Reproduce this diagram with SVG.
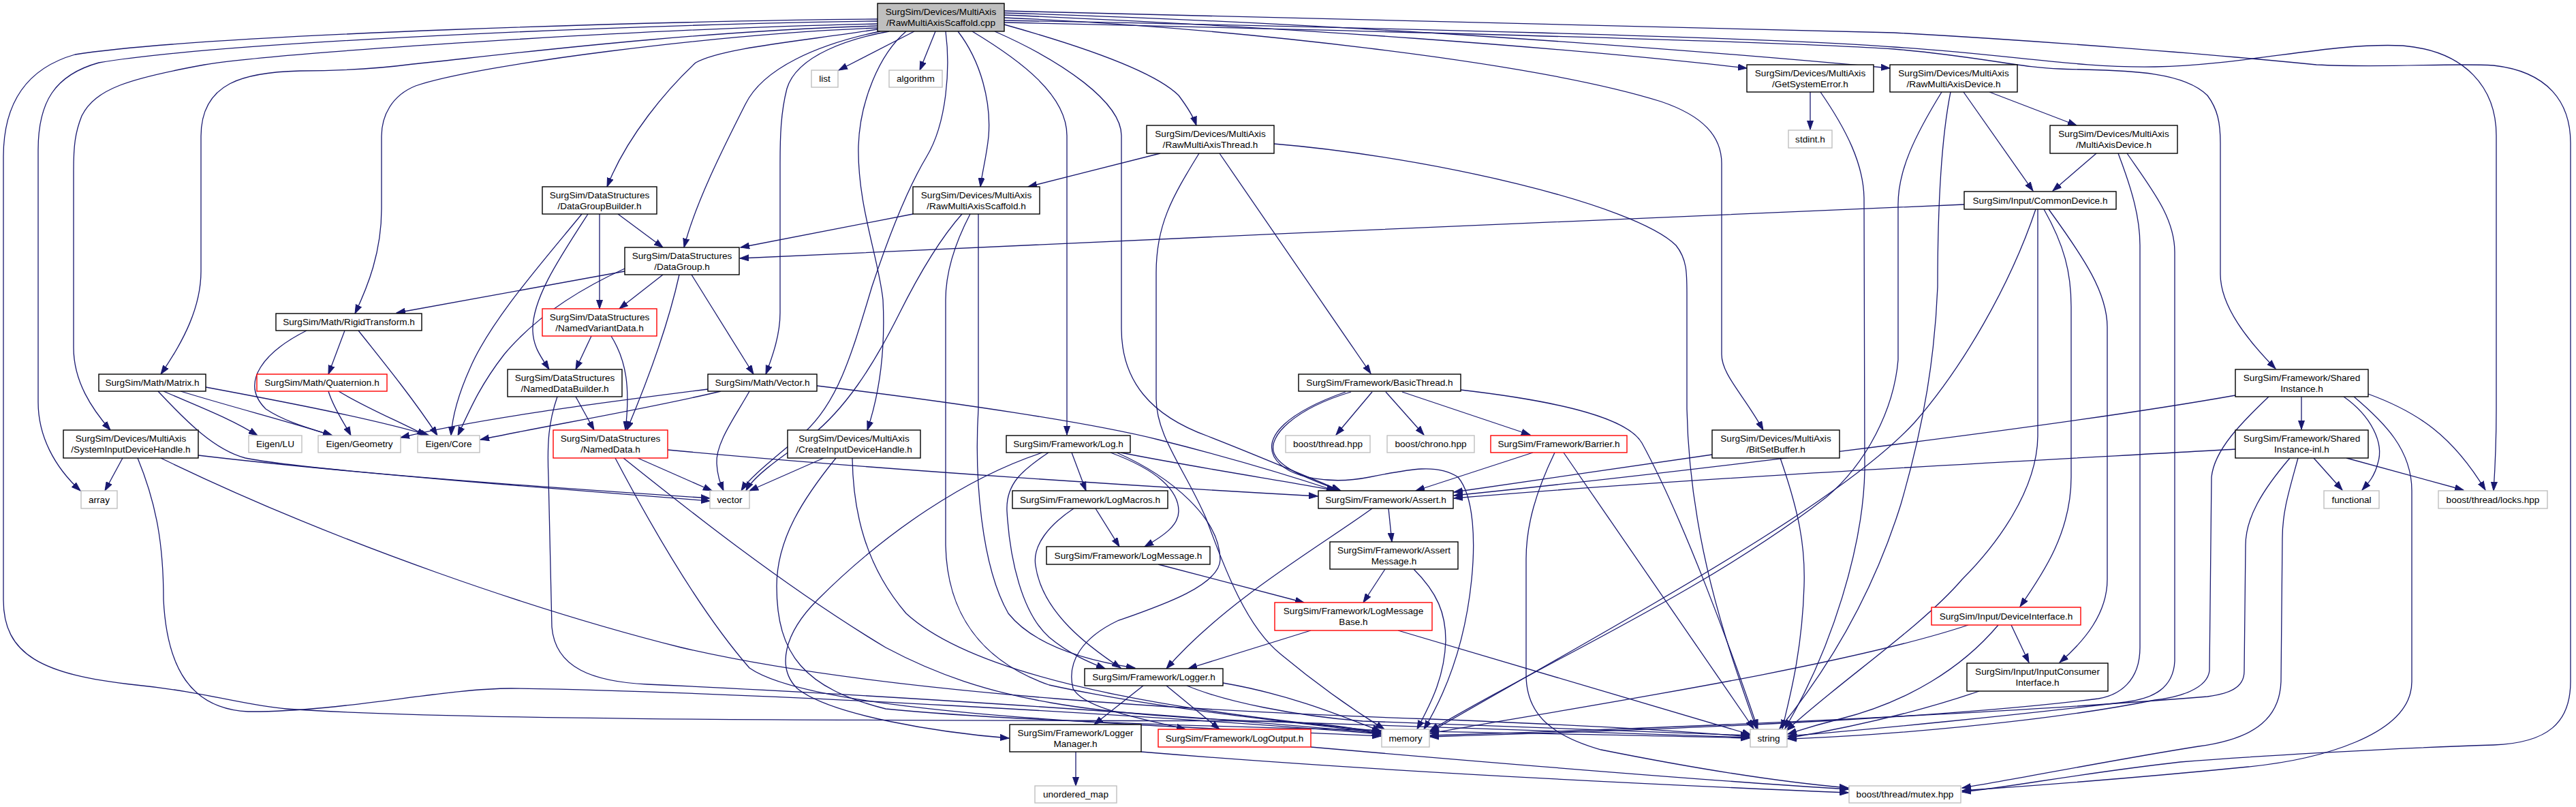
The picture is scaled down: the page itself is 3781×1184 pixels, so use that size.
<svg xmlns="http://www.w3.org/2000/svg" width="3781" height="1184" viewBox="0 0 3781 1184">
<defs>
<marker id="ah" markerWidth="14" markerHeight="10" refX="13" refY="5" orient="auto" markerUnits="userSpaceOnUse"><path d="M0,0.5 L13,5 L0,9.5 z" fill="#191970" stroke="#191970" stroke-width="1"/></marker>
<style>
.n rect{fill:#ffffff;stroke:#000000;stroke-width:1.4}
.r rect{fill:#ffffff;stroke:#ff0000;stroke-width:1.4}
.g rect{fill:#ffffff;stroke:#bfbfbf;stroke-width:1.4}
.rt rect{fill:#bfbfbf;stroke:#000000;stroke-width:1.4}
text{font-family:"Liberation Sans",Arial,Helvetica,sans-serif;font-size:13.6px;fill:#000000;text-anchor:middle}
#edges path{fill:none;stroke:#191970;stroke-width:1.3;marker-end:url(#ah)}
</style>
</defs>
<rect width="3781" height="1184" fill="#ffffff"/>
<g id="edges">
<path d="M1288,28 C1000,30 300,50 110,80 C40,100 5,150 5,230 L5,880 C5,960 60,990 200,1005 C300,1015 360,1035 420,1040 C700,1060 1500,1056 1850,1058 C1950,1060 2000,1070 2027,1078"/>
<path d="M1288,31 C1000,34 330,60 145,92 C80,110 56,150 56,220 L56,590 C56,640 80,685 118,720"/>
<path d="M1288,35 C1000,40 420,75 300,95 C190,115 140,130 120,170 C110,195 108,215 108,250 L108,510 C108,560 135,600 162,631"/>
<path d="M1288,38 C1000,46 700,85 606,94 C560,100 500,104 440,104 C360,106 295,120 295,200 L295,398 C295,450 270,500 236,549"/>
<path d="M1288,41 C1050,50 700,95 610,126 C575,140 560,170 560,200 L560,306 C560,370 540,420 521,460"/>
<path d="M1288,43 C1180,60 1060,70 1021,92 C980,130 920,200 891,274"/>
<path d="M1292,46 C1200,65 1120,100 1094,153 C1060,220 1020,300 1004,363"/>
<path d="M1305,46 C1250,56 1170,80 1155,130 C1146,165 1145,200 1145,240 L1145,459 C1145,490 1135,520 1124,549"/>
<path d="M1342,46 L1231,103"/>
<path d="M1373,46 L1350,103"/>
<path d="M1330,46 C1290,80 1262,150 1260,214 C1258,300 1290,380 1296,440 C1300,520 1290,580 1273,631"/>
<path d="M1388,46 C1395,100 1390,180 1360,230 C1330,280 1300,360 1280,420 C1250,520 1230,590 1180,635 C1140,670 1100,700 1088,720"/>
<path d="M1406,46 C1440,90 1455,150 1451,200 C1448,230 1442,250 1439,274"/>
<path d="M1427,46 C1500,90 1566,140 1566,199 L1566,638"/>
<path d="M1460,46 C1560,90 1646,150 1646,199 L1646,482 C1646,560 1690,610 1773,640 C1850,670 1920,700 1968,720"/>
<path d="M1474,36 C1560,60 1690,100 1730,140 C1745,160 1752,172 1756,184"/>
<path d="M1474,26 C1800,40 2250,90 2438,149 C2500,170 2527,200 2527,240 L2527,520 C2527,550 2560,580 2588,631"/>
<path d="M1474,22 C1900,40 2300,70 2564,100"/>
<path d="M1474,19 C1950,33 2450,70 2774,100"/>
<path d="M1474,16 C2000,25 2500,40 2780,48 C3000,60 3250,80 3400,95 C3500,100 3600,92 3660,96 C3740,105 3773,150 3773,210 L3773,1000 C3773,1060 3740,1090 3660,1093 C3500,1098 3300,1110 3200,1118 C3050,1135 2950,1155 2880,1162"/>
<path d="M1474,30 C2000,40 2600,55 2780,69 C2950,80 3050,100 3163,98 C3300,95 3420,62 3527,67 C3620,75 3664,130 3664,199 L3664,600 C3664,650 3662,690 3660,720"/>
<path d="M1474,33 C2000,45 2600,60 2780,72 C2900,82 2970,100 3023,101 C3100,104 3200,100 3240,140 C3255,160 3259,180 3259,210 L3259,402 C3259,450 3300,500 3340,541"/>
<path d="M2920,135 L3048,184"/>
<path d="M2882,135 L2984,280"/>
<path d="M2850,135 C2810,200 2786,250 2786,300 L2786,528 C2780,600 2740,680 2680,730 C2500,870 2250,980 2099,1072"/>
<path d="M2863,135 C2850,200 2844,300 2844,421 C2840,520 2825,620 2790,740 C2740,900 2660,1010 2612,1069"/>
<path d="M3077,225 L3013,280"/>
<path d="M3109,225 C3130,280 3141,320 3141,360 L3141,950 C3141,1000 3110,1020 3080,1025 C2800,1060 2300,1075 2099,1081"/>
<path d="M3122,225 C3160,280 3192,320 3192,370 L3192,970 C3190,1010 3160,1025 3120,1030 C2950,1050 2750,1070 2624,1080"/>
<path d="M2883,300 C2500,315 1600,355 1086,379"/>
<path d="M2988,307 C2950,420 2880,540 2810,620 C2700,740 2400,900 2099,1074"/>
<path d="M2991,307 L2991,640 C2990,720 2930,800 2880,850 C2820,920 2700,1000 2622,1072"/>
<path d="M3000,307 C3030,360 3040,400 3040,450 L3040,700 C3040,780 3000,840 2965,890"/>
<path d="M3007,307 C3060,380 3093,430 3093,480 L3093,850 C3093,900 3060,940 3023,972"/>
<path d="M2952,917 L2978,972"/>
<path d="M2889,917 C2700,980 2300,1040 2099,1076"/>
<path d="M2933,917 C2880,980 2800,1030 2700,1055 C2660,1065 2640,1072 2624,1077"/>
<path d="M2905,1014 C2800,1050 2700,1070 2624,1083"/>
<path d="M3281,580 C3000,630 2400,700 2134,727"/>
<path d="M3378,582 L3378,630"/>
<path d="M3440,582 C3480,610 3500,650 3490,680 C3485,700 3475,710 3467,719"/>
<path d="M3476,578 C3550,605 3600,640 3648,719"/>
<path d="M3455,582 C3500,620 3540,660 3540,720 L3540,1000 C3540,1080 3400,1115 3300,1125 C3100,1145 2950,1155 2880,1160"/>
<path d="M3330,582 C3290,620 3250,660 3246,700 L3243,984 C3240,1010 3200,1023 3163,1027 C3000,1060 2750,1080 2624,1084"/>
<path d="M3281,659 C3000,675 2500,700 2134,731"/>
<path d="M3396,672 L3438,719"/>
<path d="M3444,672 L3616,719"/>
<path d="M3361,672 C3320,720 3296,760 3296,800 L3294,985 C3294,1010 3270,1018 3240,1022 C2900,1050 2400,1070 2099,1079"/>
<path d="M3373,672 C3360,720 3350,750 3350,790 L3348,1000 C3346,1060 3300,1085 3227,1095 C3100,1115 2950,1145 2880,1156"/>
<path d="M2513,667 L2134,722"/>
<path d="M2613,672 C2640,750 2650,800 2648,860 C2645,960 2625,1030 2616,1069"/>
<path d="M2657,135 L2657,190"/>
<path d="M2672,135 C2710,190 2735,240 2736,290 L2737,690 C2735,800 2690,950 2620,1069"/>
<path d="M1703,225 L1509,274"/>
<path d="M1790,225 L2012,548"/>
<path d="M1760,225 C1720,290 1697,330 1697,400 L1697,585 C1697,640 1740,690 1770,760 C1800,840 1830,920 1880,960 C1940,1010 2000,1050 2032,1070"/>
<path d="M1870,211 C2100,230 2400,300 2460,360 C2476,380 2476,400 2476,430 L2476,600 C2480,800 2540,960 2578,1069"/>
<path d="M1340,314 L1087,363"/>
<path d="M1412,314 C1380,350 1350,400 1320,460 C1280,540 1240,600 1190,640 C1140,675 1105,700 1095,720"/>
<path d="M1436,314 L1436,600 C1430,700 1440,830 1480,900 C1520,950 1600,970 1666,980"/>
<path d="M1424,314 C1400,360 1388,400 1388,440 L1388,800 C1390,900 1440,970 1540,1005 C1700,1040 1900,1060 2027,1075"/>
<path d="M1573,664 L1594,720"/>
<path d="M1630,664 C1700,690 1730,720 1730,750 C1730,770 1710,785 1680,802"/>
<path d="M1639,664 C1720,700 1790,760 1791,821 C1790,860 1700,890 1640,911 C1590,935 1565,970 1575,1010 C1590,1040 1680,1055 1740,1070"/>
<path d="M1539,664 C1500,690 1476,710 1478,750 C1482,820 1500,900 1540,935 C1570,960 1600,972 1622,981"/>
<path d="M1530,664 C1420,700 1300,780 1200,880 C1150,930 1140,980 1170,1010 C1220,1050 1380,1075 1481,1083"/>
<path d="M1645,664 C1750,685 1900,708 1962,720"/>
<path d="M1608,746 L1643,802"/>
<path d="M1576,746 C1540,770 1515,800 1520,830 C1530,900 1600,950 1645,980"/>
<path d="M1700,828 L1914,884"/>
<path d="M1924,925 L1744,981"/>
<path d="M2052,925 L2570,1078"/>
<path d="M2038,746 L2043,795"/>
<path d="M2014,746 C1940,800 1800,880 1712,981"/>
<path d="M2033,835 L2001,884"/>
<path d="M2075,835 C2110,870 2122,900 2122,940 C2120,1000 2095,1040 2080,1070"/>
<path d="M1678,1006 L1606,1063"/>
<path d="M1712,1006 L1790,1070"/>
<path d="M1795,1002 C1900,1020 1980,1055 2027,1073"/>
<path d="M1742,1006 C1800,1030 1900,1050 2000,1058 C2300,1070 2500,1075 2568,1079"/>
<path d="M1579,1103 L1579,1153"/>
<path d="M1675,1103 C2000,1130 2400,1150 2713,1163"/>
<path d="M1924,1096 C2200,1120 2500,1145 2713,1158"/>
<path d="M2250,664 L2078,720"/>
<path d="M2295,664 L2574,1069"/>
<path d="M2282,664 C2255,720 2240,770 2240,820 L2240,990 C2240,1050 2280,1080 2350,1100 C2500,1130 2620,1148 2713,1156"/>
<path d="M2014,575 L1961,638"/>
<path d="M2034,575 L2090,638"/>
<path d="M2058,575 L2246,638"/>
<path d="M2144,572 C2300,590 2390,615 2410,650 C2470,760 2540,950 2580,1069"/>
<path d="M1983,575 C1900,600 1860,640 1870,665 C1880,690 1930,705 1967,720"/>
<path d="M1975,575 C1890,605 1855,640 1870,670 C1890,705 1960,710 2010,700 C2070,688 2110,680 2140,700 C2165,730 2165,800 2160,850 C2150,950 2120,1020 2090,1070"/>
<path d="M854,314 C800,380 720,470 690,540 C672,580 664,610 662,639"/>
<path d="M863,314 C820,380 780,440 782,486 C783,510 795,525 806,542"/>
<path d="M880,314 L880,453"/>
<path d="M907,314 L973,363"/>
<path d="M917,398 L582,459"/>
<path d="M917,394 C860,420 790,460 740,520 C705,565 690,600 672,639"/>
<path d="M973,403 L909,453"/>
<path d="M997,403 C980,480 950,560 920,631"/>
<path d="M1015,403 L1106,549"/>
<path d="M450,485 C390,515 350,560 390,600 C420,620 460,630 488,639"/>
<path d="M506,485 L482,549"/>
<path d="M526,485 C570,540 610,590 642,639"/>
<path d="M482,574 C490,600 505,620 515,639"/>
<path d="M497,574 C540,600 590,620 625,639"/>
<path d="M240,574 C300,600 340,615 378,639"/>
<path d="M265,574 C350,600 430,620 487,639"/>
<path d="M302,568 C420,590 550,615 630,639"/>
<path d="M232,574 C275,620 315,660 360,672 C450,690 800,715 1042,731"/>
<path d="M180,672 L154,720"/>
<path d="M291,668 C500,693 850,720 1042,735"/>
<path d="M202,672 C230,740 240,800 240,880 C245,980 280,1040 364,1044 C500,1045 650,1010 750,1010 C1100,1015 1700,1050 2027,1077"/>
<path d="M236,672 C500,800 800,900 1000,950 C1300,1020 1800,1045 2100,1055 C2350,1065 2500,1075 2568,1081"/>
<path d="M845,582 L872,631"/>
<path d="M818,582 C805,620 803,650 805,700 L810,920 C815,980 870,1000 950,1004 C1200,1015 1700,1045 2027,1076"/>
<path d="M868,493 L845,542"/>
<path d="M897,493 C920,530 925,570 918,631"/>
<path d="M936,672 L1045,720"/>
<path d="M980,660 C1300,690 1700,715 1934,728"/>
<path d="M903,672 C960,780 1030,900 1100,980 C1200,1050 1700,1065 2027,1080"/>
<path d="M915,672 C1000,740 1150,860 1300,950 C1450,1030 1600,1050 1900,1060 C2250,1070 2450,1078 2568,1082"/>
<path d="M1209,672 L1100,720"/>
<path d="M1251,672 C1252,750 1270,830 1330,900 C1450,1010 1800,1050 2027,1073"/>
<path d="M1227,672 C1180,730 1140,790 1140,860 C1140,960 1180,1010 1300,1040 C1600,1070 2300,1075 2568,1083"/>
<path d="M1039,571 C850,595 700,615 588,642"/>
<path d="M1058,574 C950,600 800,625 705,645"/>
<path d="M1100,574 C1080,610 1050,650 1052,680 C1053,700 1058,710 1062,720"/>
<path d="M1199,566 C1400,590 1600,620 1700,645 C1800,670 1900,700 1960,720"/>
</g>
<g id="n-root" class="rt"><rect x="1288" y="5" width="186" height="41"/><text x="1381" y="22.4">SurgSim/Devices/MultiAxis</text><text x="1381" y="37.7">/RawMultiAxisScaffold.cpp</text></g>
<g id="n-list" class="g"><rect x="1191" y="103" width="39" height="25"/><text x="1210.5" y="120.3">list</text></g>
<g id="n-algorithm" class="g"><rect x="1305" y="103" width="78" height="25"/><text x="1344" y="120.3">algorithm</text></g>
<g id="n-getsystemerror" class="n"><rect x="2564" y="95" width="186" height="40"/><text x="2657" y="112.2">SurgSim/Devices/MultiAxis</text><text x="2657" y="127.5">/GetSystemError.h</text></g>
<g id="n-rawmultiaxisdevice" class="n"><rect x="2774" y="95" width="187" height="40"/><text x="2867.5" y="112.2">SurgSim/Devices/MultiAxis</text><text x="2867.5" y="127.5">/RawMultiAxisDevice.h</text></g>
<g id="n-stdint" class="g"><rect x="2625" y="191" width="64" height="26"/><text x="2657" y="208.6">stdint.h</text></g>
<g id="n-rawmultiaxisthread" class="n"><rect x="1683" y="184" width="187" height="41"/><text x="1776.5" y="201.2">SurgSim/Devices/MultiAxis</text><text x="1776.5" y="216.5">/RawMultiAxisThread.h</text></g>
<g id="n-multiaxisdevice" class="n"><rect x="3009" y="184" width="187" height="41"/><text x="3102.5" y="201.2">SurgSim/Devices/MultiAxis</text><text x="3102.5" y="216.5">/MultiAxisDevice.h</text></g>
<g id="n-datagroupbuilder" class="n"><rect x="796" y="274" width="168" height="40"/><text x="880" y="291.2">SurgSim/DataStructures</text><text x="880" y="306.5">/DataGroupBuilder.h</text></g>
<g id="n-rawmultiaxisscaffold" class="n"><rect x="1340" y="274" width="186" height="40"/><text x="1433" y="291.2">SurgSim/Devices/MultiAxis</text><text x="1433" y="306.5">/RawMultiAxisScaffold.h</text></g>
<g id="n-commondevice" class="n"><rect x="2883" y="281" width="223" height="26"/><text x="2994.5" y="298.6">SurgSim/Input/CommonDevice.h</text></g>
<g id="n-datagroup" class="n"><rect x="917" y="363" width="168" height="40"/><text x="1001" y="380.2">SurgSim/DataStructures</text><text x="1001" y="395.5">/DataGroup.h</text></g>
<g id="n-rigidtransform" class="n"><rect x="405" y="460" width="214" height="25"/><text x="512" y="477.3">SurgSim/Math/RigidTransform.h</text></g>
<g id="n-namedvariantdata" class="r"><rect x="796" y="453" width="168" height="40"/><text x="880" y="470.2">SurgSim/DataStructures</text><text x="880" y="485.5">/NamedVariantData.h</text></g>
<g id="n-matrix" class="n"><rect x="145" y="549" width="157" height="25"/><text x="223.5" y="566.3">SurgSim/Math/Matrix.h</text></g>
<g id="n-quaternion" class="r"><rect x="377" y="549" width="191" height="25"/><text x="472.5" y="566.3">SurgSim/Math/Quaternion.h</text></g>
<g id="n-vectorh" class="n"><rect x="1039" y="549" width="160" height="25"/><text x="1119" y="566.3">SurgSim/Math/Vector.h</text></g>
<g id="n-basicthread" class="n"><rect x="1906" y="549" width="238" height="25"/><text x="2025" y="566.3">SurgSim/Framework/BasicThread.h</text></g>
<g id="n-nameddatabuilder" class="n"><rect x="745" y="542" width="168" height="40"/><text x="829" y="559.2">SurgSim/DataStructures</text><text x="829" y="574.5">/NamedDataBuilder.h</text></g>
<g id="n-sharedinstance" class="n"><rect x="3281" y="542" width="195" height="40"/><text x="3378.5" y="559.2">SurgSim/Framework/Shared</text><text x="3378.5" y="574.5">Instance.h</text></g>
<g id="n-systeminputdevicehandle" class="n"><rect x="93" y="631" width="198" height="41"/><text x="192" y="648.2">SurgSim/Devices/MultiAxis</text><text x="192" y="663.5">/SystemInputDeviceHandle.h</text></g>
<g id="n-nameddata" class="r"><rect x="812" y="631" width="168" height="41"/><text x="896" y="648.2">SurgSim/DataStructures</text><text x="896" y="663.5">/NamedData.h</text></g>
<g id="n-createinputdevicehandle" class="n"><rect x="1156" y="631" width="195" height="41"/><text x="1253.5" y="648.2">SurgSim/Devices/MultiAxis</text><text x="1253.5" y="663.5">/CreateInputDeviceHandle.h</text></g>
<g id="n-bitsetbuffer" class="n"><rect x="2513" y="631" width="187" height="41"/><text x="2606.5" y="648.2">SurgSim/Devices/MultiAxis</text><text x="2606.5" y="663.5">/BitSetBuffer.h</text></g>
<g id="n-sharedinstance-inl" class="n"><rect x="3281" y="631" width="195" height="41"/><text x="3378.5" y="648.2">SurgSim/Framework/Shared</text><text x="3378.5" y="663.5">Instance-inl.h</text></g>
<g id="n-eigenlu" class="g"><rect x="365" y="639" width="78" height="25"/><text x="404" y="656.3">Eigen/LU</text></g>
<g id="n-eigengeometry" class="g"><rect x="467" y="639" width="121" height="25"/><text x="527.5" y="656.3">Eigen/Geometry</text></g>
<g id="n-eigencore" class="g"><rect x="613" y="639" width="91" height="25"/><text x="658.5" y="656.3">Eigen/Core</text></g>
<g id="n-log" class="n"><rect x="1477" y="639" width="182" height="25"/><text x="1568" y="656.3">SurgSim/Framework/Log.h</text></g>
<g id="n-boostthread" class="g"><rect x="1887" y="639" width="124" height="25"/><text x="1949" y="656.3">boost/thread.hpp</text></g>
<g id="n-boostchrono" class="g"><rect x="2036" y="639" width="128" height="25"/><text x="2100" y="656.3">boost/chrono.hpp</text></g>
<g id="n-barrier" class="r"><rect x="2188" y="639" width="200" height="25"/><text x="2288" y="656.3">SurgSim/Framework/Barrier.h</text></g>
<g id="n-array" class="g"><rect x="119" y="720" width="53" height="26"/><text x="145.5" y="737.6">array</text></g>
<g id="n-vector" class="g"><rect x="1042" y="720" width="58" height="26"/><text x="1071" y="737.6">vector</text></g>
<g id="n-logmacros" class="n"><rect x="1486" y="720" width="228" height="26"/><text x="1600" y="737.6">SurgSim/Framework/LogMacros.h</text></g>
<g id="n-assert" class="n"><rect x="1935" y="720" width="198" height="26"/><text x="2034" y="737.6">SurgSim/Framework/Assert.h</text></g>
<g id="n-functional" class="g"><rect x="3411" y="720" width="81" height="26"/><text x="3451.5" y="737.6">functional</text></g>
<g id="n-locks" class="g"><rect x="3579" y="720" width="160" height="26"/><text x="3659" y="737.6">boost/thread/locks.hpp</text></g>
<g id="n-assertmessage" class="n"><rect x="1952" y="795" width="188" height="40"/><text x="2046" y="812.2">SurgSim/Framework/Assert</text><text x="2046" y="827.5">Message.h</text></g>
<g id="n-logmessage" class="n"><rect x="1536" y="802" width="240" height="26"/><text x="1656" y="819.6">SurgSim/Framework/LogMessage.h</text></g>
<g id="n-logmessagebase" class="r"><rect x="1871" y="884" width="231" height="41"/><text x="1986.5" y="901.2">SurgSim/Framework/LogMessage</text><text x="1986.5" y="916.5">Base.h</text></g>
<g id="n-deviceinterface" class="r"><rect x="2835" y="891" width="219" height="26"/><text x="2944.5" y="908.6">SurgSim/Input/DeviceInterface.h</text></g>
<g id="n-inputconsumerinterface" class="n"><rect x="2887" y="973" width="207" height="41"/><text x="2990.5" y="990.2">SurgSim/Input/InputConsumer</text><text x="2990.5" y="1005.5">Interface.h</text></g>
<g id="n-logger" class="n"><rect x="1592" y="981" width="203" height="25"/><text x="1693.5" y="998.3">SurgSim/Framework/Logger.h</text></g>
<g id="n-loggermanager" class="n"><rect x="1482" y="1063" width="193" height="40"/><text x="1578.5" y="1080.2">SurgSim/Framework/Logger</text><text x="1578.5" y="1095.5">Manager.h</text></g>
<g id="n-logoutput" class="r"><rect x="1700" y="1070" width="224" height="26"/><text x="1812" y="1087.6">SurgSim/Framework/LogOutput.h</text></g>
<g id="n-memory" class="g"><rect x="2028" y="1070" width="70" height="26"/><text x="2063" y="1087.6">memory</text></g>
<g id="n-string" class="g"><rect x="2569" y="1070" width="54" height="26"/><text x="2596" y="1087.6">string</text></g>
<g id="n-unordered_map" class="g"><rect x="1519" y="1153" width="120" height="25"/><text x="1579" y="1170.3">unordered_map</text></g>
<g id="n-mutex" class="g"><rect x="2714" y="1153" width="164" height="25"/><text x="2796" y="1170.3">boost/thread/mutex.hpp</text></g>
</svg>
